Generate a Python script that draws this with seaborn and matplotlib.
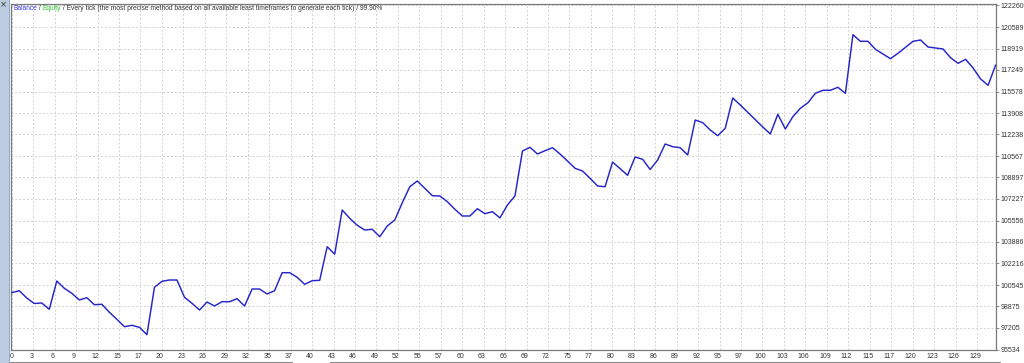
import numpy as np
import pandas as pd
import matplotlib
matplotlib.use("Agg")
import matplotlib.pyplot as plt
import matplotlib.transforms as mtrans
from matplotlib.patches import Rectangle
import seaborn as sns

# ---- data ----
balance = [99947, 100102, 99535, 99108, 99147, 98657, 100856, 100289, 99900, 99380,
           99558, 99015, 99046, 98424, 97880, 97305, 97414, 97259, 96684, 100366,
           100833, 100934, 100934, 99590, 99123, 98603, 99224, 98914, 99248, 99248,
           99481, 98914, 100234, 100234, 99846, 100102, 101501, 101501, 101143, 100600,
           100879, 100910, 103521, 102938, 106372, 105727, 105183, 104818, 104873, 104298,
           105129, 105595, 106939, 108182, 108625, 108058, 107483, 107460, 107017, 106426,
           105906, 105906, 106473, 106085, 106240, 105758, 106760, 107460, 110956, 111243,
           110723, 110979, 111212, 110723, 110179, 109612, 109402, 108835, 108237, 108182,
           110101, 109581, 109068, 110490, 110311, 109519, 110257, 111500, 111290, 111212,
           110645, 113364, 113155, 112587, 112145, 112719, 115074, 114530, 113963, 113388,
           112820, 112277, 113807, 112665, 113621, 114273, 114701, 115439, 115672, 115672,
           115905, 115439, 119991, 119479, 119479, 118857, 118492, 118127, 118546, 119013,
           119479, 119580, 119036, 118958, 118880, 118205, 117769, 118080, 117404, 116550,
           116060, 117637]
trades = list(range(len(balance)))

y_tick_labels = ["95534", "97205", "98875", "100545", "102216", "103886", "105556",
                 "107227", "108897", "110567", "112238", "113908", "115578", "117249",
                 "118919", "120589", "122260"]
x_tick_labels = ["0", "3", "6", "9", "12", "15", "17", "20", "23", "26", "29", "32", "35",
                 "37", "40", "43", "46", "49", "52", "55", "57", "60", "63", "66", "69",
                 "72", "75", "77", "80", "83", "86", "89", "92", "95", "97", "100", "103",
                 "106", "109", "112", "115", "117", "120", "123", "126", "129"]
title_parts = [("Balance", "#3a3ad0"), (" / ", "#333333"), ("Equity", "#2ec42e"),
               (" / Every tick (the most precise method based on all available least "
                "timeframes to generate each tick) / 99.90%", "#333333")]

df = pd.DataFrame({"trade": trades, "balance": balance})

sns.set_style("white")
plt.rcParams["font.family"] = ["Liberation Sans", "DejaVu Sans"]

W, H = 1024, 363
fig = plt.figure(figsize=(W / 100, H / 100), dpi=100)
fig.patch.set_facecolor("white")

# plot area in pixels: x 11..996, y 4..350 (from top)
ax = fig.add_axes([11 / W, (H - 350) / H, (996 - 11) / W, (350 - 4) / H])
ax.set_facecolor("white")

sns.lineplot(data=df, x="trade", y="balance", ax=ax, color="#2525c8", linewidth=1.05,
             zorder=3)

ytv = [float(v) for v in y_tick_labels]
ax.set_ylim(95534 - 0.5 * 77.69, 122260 + 1.5 * 77.69)
ax.set_xlim(-0.1, 131.05)

step = 2.856
xt = [j * step for j in range(len(x_tick_labels))]
ax.set_xticks(xt)
ax.set_xticklabels(x_tick_labels)
ax.set_yticks(ytv)
ax.set_yticklabels(y_tick_labels)
ax.yaxis.tick_right()

ax.grid(True, color="#d2d2d2", linestyle=(0, (2, 2)), linewidth=0.7)
ax.set_axisbelow(True)
ax.tick_params(axis="y", which="both", length=2, width=0.6, color="#808080", pad=1.5,
               labelsize=5, labelcolor="#333333", right=True, left=False)
ax.tick_params(axis="x", which="both", length=0, pad=1.8, labelsize=5,
               labelcolor="#333333", bottom=True)
for s in ax.spines.values():
    s.set_color("#7a7a7a")
    s.set_linewidth(0.9)
ax.set_xlabel("")
ax.set_ylabel("")

# x labels sit centred just left of their gridlines
offset = mtrans.ScaledTranslation(-2 / 100, 0, fig.dpi_scale_trans)
for lab in ax.get_xticklabels():
    lab.set_horizontalalignment("center")
    lab.set_transform(lab.get_transform() + offset)
offset0 = mtrans.ScaledTranslation(2 / 100, 0, fig.dpi_scale_trans)
ax.get_xticklabels()[0].set_transform(ax.get_xticklabels()[0].get_transform() + offset0)

# multi-coloured caption at top-left inside the plot
fig.canvas.draw()
renderer = fig.canvas.get_renderer()
xpix = 13.0
for txt, col in title_parts:
    t = fig.text(xpix / W, 1 - 9 / H, txt, color=col, fontsize=4.8, va="center",
                 ha="left")
    bb = t.get_window_extent(renderer=renderer)
    xpix += bb.width

# window chrome: left bluish strip and bottom strip
fig.patches.append(Rectangle((0, 0), 9 / W, 1, transform=fig.transFigure,
                             facecolor="#bccde2", edgecolor="none", zorder=0))
fig.patches.append(Rectangle((9 / W, 0), 1 / W, 1, transform=fig.transFigure,
                             facecolor="#93a9c4", edgecolor="none", zorder=0))
fig.text(3 / W, 1 - 5 / H, "×", fontsize=6, color="#333333", ha="center", va="center",
         family=["DejaVu Sans"])
fig.add_artist(plt.Line2D([10 / W, 292 / W], [1 - 361.5 / H, 1 - 361.5 / H],
                          transform=fig.transFigure, color="#8a8a8a", linewidth=0.8))
fig.add_artist(plt.Line2D([330 / W, 1000 / W], [1 - 361.5 / H, 1 - 361.5 / H],
                          transform=fig.transFigure, color="#8a8a8a", linewidth=0.8))

fig.savefig("out.png", dpi=100, facecolor=fig.get_facecolor())
